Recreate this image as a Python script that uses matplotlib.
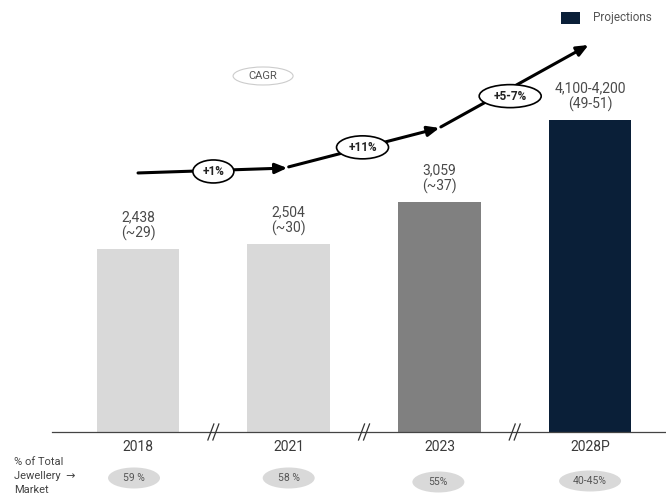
import matplotlib
matplotlib.use("Agg")
import matplotlib.pyplot as plt
from matplotlib.patches import Ellipse, Rectangle

# Jewellery market size by year
years = ["2018", "2021", "2023", "2028P"]
market_size = [2438, 2504, 3059, 4150]
value_labels = ["2,438", "2,504", "3,059", "4,100-4,200"]
sub_labels = ["(~29)", "(~30)", "(~37)", "(49-51)"]
share_labels = ["59 %", "58 %", "55%", "40-45%"]
cagr_labels = ["+1%", "+11%", "+5-7%"]
bar_colors = ["#d9d9d9", "#d9d9d9", "#808080", "#0a1f38"]

FONT = ["Roboto", "DejaVu Sans"]
plt.rcParams["font.family"] = FONT

fig = plt.figure(figsize=(6.66, 4.95), dpi=100)
ax = fig.add_axes([0, 0, 1, 1])
ax.set_xlim(-0.916, 3.504)
ax.set_ylim(-839, 5752)
ax.axis("off")

# pixel -> data unit conversion
PX_X = 1 / 150.7
PX_Y = 6591 / 495

x = list(range(len(years)))
ax.bar(x, market_size, width=0.55, color=bar_colors, zorder=2)

# baseline
ax.plot([-0.571, 3.497], [0, 0], color="#444444", lw=0.9, zorder=3)

# axis break marks between the periods
for bx in [0.5, 1.5, 2.5]:
    for off in (-2.5, 2.5):
        ax.plot([bx + (off - 3) * PX_X, bx + (off + 3) * PX_X],
                [-8 * PX_Y, 8 * PX_Y], color="#333333", lw=0.9, zorder=4)

# year labels
for xi, yr in zip(x, years):
    ax.text(xi, -15 * PX_Y, yr, ha="center", va="center", fontsize=10,
            color="#3a3a3a")

# value labels above bars
for xi, v, lab, sub in zip(x, market_size, value_labels, sub_labels):
    ax.text(xi, v + 16 * PX_Y, sub, ha="center", va="center", fontsize=10,
            color="#4a4a4a")
    ax.text(xi, v + 32 * PX_Y, lab, ha="center", va="center", fontsize=10,
            color="#4a4a4a")

# CAGR trend arrows
segments = [((0.0, 3449), (0.99, 3515)),
            ((1.0, 3530), (2.0, 4048)),
            ((2.01, 4062), (2.99, 5153))]
for (p0, p1) in segments:
    ax.annotate("", xy=p1, xytext=p0,
                arrowprops=dict(arrowstyle="-|>,head_length=0.7,head_width=0.3",
                                color="black", lw=2.2, shrinkA=0, shrinkB=0),
                zorder=5)

cagr_pos = [(0.5, 3469), (1.49, 3790), (2.47, 4472)]
cagr_w = [41, 52, 62]
for (cx, cy), lab, w in zip(cagr_pos, cagr_labels, cagr_w):
    ax.add_patch(Ellipse((cx, cy), w * PX_X, 23 * PX_Y, facecolor="white",
                         edgecolor="black", lw=1.2, zorder=6))
    ax.text(cx, cy, lab, ha="center", va="center", fontsize=8.5,
            fontweight="bold", color="#222222", zorder=7)

# CAGR tag
ax.add_patch(Ellipse((0.83, (432 - 76) * PX_Y), 60 * PX_X, 18 * PX_Y,
                     facecolor="white", edgecolor="#cccccc", lw=0.8, zorder=6))
ax.text(0.83, (432 - 76) * PX_Y, "CAGR", ha="center", va="center",
        fontsize=8, color="#555555", zorder=7)

# share of total jewellery market
share_y = [478, 478, 482, 481]
share_w = [52, 52, 52, 62]
share_dx = [-4, 0, -1, 0]
for xi, lab, sy, w, dx in zip(x, share_labels, share_y, share_w, share_dx):
    cy = (432 - sy) * PX_Y
    ax.add_patch(Ellipse((xi + dx * PX_X, cy), w * PX_X, 21 * PX_Y,
                         facecolor="#d9d9d9", edgecolor="none", zorder=2,
                         clip_on=False))
    ax.text(xi + dx * PX_X, cy, lab, ha="center", va="center", fontsize=7.5,
            color="#555555", zorder=3)

fig.text(14 / 666, 1 - 462 / 495, "% of Total", ha="left", va="center",
         fontsize=8, color="#444444")
fig.text(14 / 666, 1 - 476 / 495, "Jewellery  \u2192", ha="left", va="center",
         fontsize=8, color="#444444")
fig.text(14 / 666, 1 - 490 / 495, "Market", ha="left", va="center",
         fontsize=8, color="#444444")

# legend
fig.patches.append(Rectangle((561 / 666, 1 - 24 / 495), 19 / 666, 12 / 495,
                             transform=fig.transFigure, facecolor="#0a1f38",
                             edgecolor="none"))
fig.text(593 / 666, 1 - 17 / 495, "Projections", ha="left", va="center",
         fontsize=8.5, color="#555555")

fig.savefig("out.png", dpi=100)
